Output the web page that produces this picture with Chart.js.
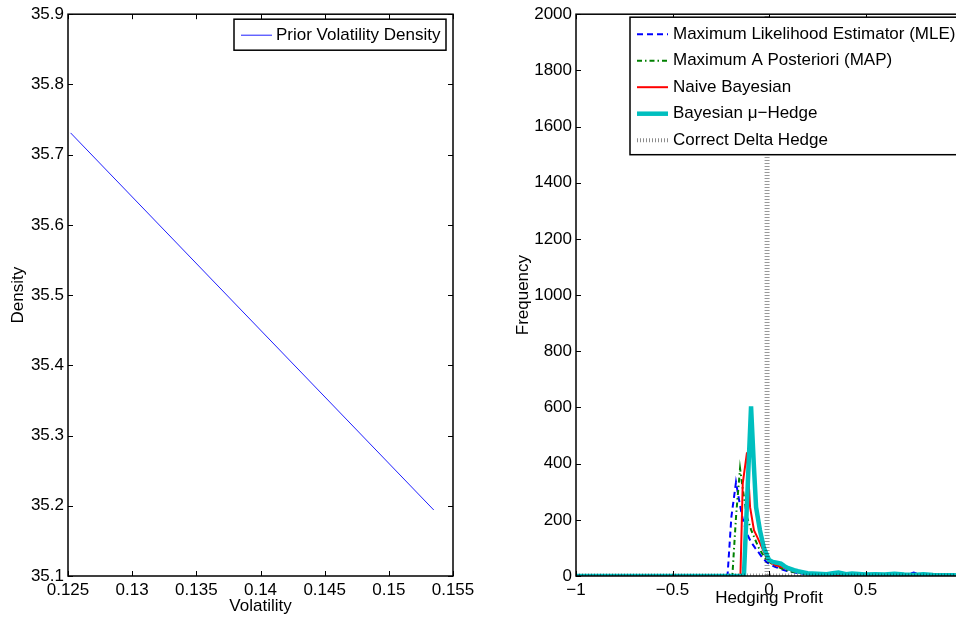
<!DOCTYPE html>
<html>
<head>
<meta charset="utf-8">
<script src="https://cdn.jsdelivr.net/npm/chart.js@4.4.0/dist/chart.umd.min.js"></script>
<style>
  html, body { margin: 0; padding: 0; background: #fff; overflow: hidden; width: 956px; height: 617px; }
  #left { position: absolute; left: 0; top: 0; }
  #right { position: absolute; left: 480px; top: 0; }
</style>
</head>
<body>
<canvas id="left" width="480" height="617"></canvas>
<canvas id="right" width="520" height="617"></canvas>
<script>
// left panel: prior volatility density
const volX = [0.1252, 0.1535];
const densityY = [35.731, 35.194];
const priorLabel = 'Prior Volatility Density';

// right panel: hedging profit histograms
const mleX = [-1, -0.215, -0.195, -0.171, -0.153, -0.135, -0.114, -0.093, -0.072, -0.052, -0.031, -0.01, 0.01, 0.031, 0.052, 0.072, 0.093, 0.114, 0.135, 0.155, 0.176, 0.2, 0.25, 0.3, 0.35, 0.4, 0.45, 0.5, 0.55, 0.6, 0.65, 0.7, 0.75, 0.8, 0.85, 0.9, 0.95, 1];
const mleY = [0, 0, 210, 334, 262, 199, 150, 121, 100, 82, 62, 48, 40, 33, 27, 22, 18, 15, 12, 10, 8, 7, 6, 5, 4, 5, 3, 4, 3, 2, 3, 2, 12, 2, 2, 1, 2, 1];

const mapX = [-1, -0.19, -0.17, -0.15, -0.135, -0.114, -0.093, -0.072, -0.052, -0.031, -0.01, 0.01, 0.031, 0.052, 0.072, 0.093, 0.114, 0.135, 0.155, 0.176, 0.2, 0.25, 0.3, 0.35, 0.4, 0.45, 0.5, 0.55, 0.6, 0.65, 0.7, 0.75, 0.8, 0.85, 0.9, 0.95, 1];
const mapY = [0, 0, 220, 383, 305, 210, 165, 130, 99, 75, 56, 46, 38, 31, 25, 20, 16, 13, 11, 9, 8, 6, 5, 5, 4, 4, 3, 3, 3, 2, 2, 2, 2, 1, 1, 1, 1];

const naiveX = [-1, -0.148, -0.136, -0.114, -0.098, -0.078, -0.062, -0.047, -0.026, -0.005, 0.016, 0.036, 0.057, 0.078, 0.098, 0.12, 0.14, 0.16, 0.18, 0.2, 0.25, 0.3, 0.35, 0.4, 0.45, 0.5, 0.55, 0.6, 0.65, 0.7, 0.75, 0.8, 0.85, 0.9, 0.95, 1];
const naiveY = [0, 0, 330, 440, 245, 163, 140, 118, 85, 55, 45, 38, 34, 30, 24, 19, 15, 12, 10, 8, 6, 7, 4, 4, 3, 3, 2, 3, 2, 2, 2, 2, 4, 1, 1, 1];

const hedgeX = [-1, -0.13, -0.093, -0.079, -0.067, -0.047, -0.026, 0.0, 0.02, 0.04, 0.062, 0.08, 0.1, 0.13, 0.15, 0.18, 0.2, 0.25, 0.3, 0.33, 0.36, 0.4, 0.43, 0.5, 0.55, 0.6, 0.65, 0.7, 0.75, 0.8, 0.85, 0.9, 0.95, 1];
const hedgeY = [0, 0, 604, 401, 245, 163, 99, 57, 50, 47, 44, 35, 28, 21, 17, 13, 10, 8, 6, 10, 12, 6, 9, 5, 6, 5, 8, 5, 4, 6, 4, 3, 3, 2];

// single spike bin; null splits the rising and falling edge so the dots stay clean
const deltaX = [-1, -0.01, -0.01, -0.01, -0.01, 1];
const deltaY = [0, 0, 9000, null, 0, 0];

const seriesLabels = [
  'Maximum Likelihood Estimator (MLE)',
  'Maximum A Posteriori (MAP)',
  'Naive Bayesian',
  'Bayesian \u03bc\u2212Hedge',
  'Correct Delta Hedge'
];

const pts = (xs, ys) => xs.map((x, i) => ({ x: x, y: ys[i] }));

Chart.defaults.font.family = '"Liberation Sans", Arial, Helvetica, sans-serif';
Chart.defaults.font.size = 17;
Chart.defaults.color = '#000';

// MATLAB style box, inward ticks and boxed legend
const frame = {
  id: 'frame',
  afterDraw(chart, args, opts) {
    const { ctx, chartArea: a, scales } = chart;
    const t = 5;
    ctx.save();
    ctx.strokeStyle = '#000';
    ctx.lineWidth = 1;
    ctx.beginPath();
    scales.x.ticks.forEach(tk => {
      const px = Math.round(scales.x.getPixelForValue(tk.value)) + 0.5;
      ctx.moveTo(px, a.bottom); ctx.lineTo(px, a.bottom - t);
      ctx.moveTo(px, a.top); ctx.lineTo(px, a.top + t);
    });
    scales.y.ticks.forEach(tk => {
      const py = Math.round(scales.y.getPixelForValue(tk.value)) + 0.5;
      ctx.moveTo(a.left, py); ctx.lineTo(a.left + t, py);
      ctx.moveTo(a.right, py); ctx.lineTo(a.right - t, py);
    });
    ctx.stroke();
    ctx.lineWidth = 1.5;
    ctx.strokeRect(a.left, a.top, a.right - a.left, a.bottom - a.top);

    // legend
    const lg = opts.legend;
    const bx = a.left + lg.left, by = a.top + lg.top;
    const bw = a.right - lg.right - bx;
    const bh = lg.rowH * chart.data.datasets.length + lg.pad;
    ctx.fillStyle = '#fff';
    ctx.fillRect(bx, by, bw, bh);
    ctx.strokeRect(bx, by, bw, bh);
    ctx.font = '17px "Liberation Sans", Arial, sans-serif';
    ctx.textBaseline = 'middle';
    chart.data.datasets.forEach((ds, i) => {
      const cy = by + lg.first + i * lg.rowH;
      ctx.save();
      ctx.strokeStyle = ds.legendColor || ds.borderColor;
      ctx.lineWidth = ds.legendWidth || ds.borderWidth;
      ctx.setLineDash(ds.legendDash || ds.borderDash || []);
      ctx.beginPath();
      ctx.moveTo(bx + 7, cy);
      ctx.lineTo(bx + 38, cy);
      ctx.stroke();
      ctx.restore();
      ctx.fillStyle = '#000';
      ctx.fillText(ds.label, bx + lg.textX, cy);
    });
    ctx.restore();
  }
};

const axisCommon = {
  grid: { display: false, drawTicks: false },
  border: { display: false }
};

new Chart(document.getElementById('left'), {
  type: 'line',
  data: {
    datasets: [{
      label: priorLabel,
      data: pts(volX, densityY),
      borderColor: 'rgb(30,30,255)',
      borderWidth: 1,
      pointRadius: 0
    }]
  },
  options: {
    responsive: false,
    animation: false,
    layout: { padding: { top: 13, right: 27, left: 0, bottom: 0 } },
    plugins: {
      legend: { display: false },
      tooltip: { enabled: false },
      frame: { legend: { left: 166, top: 5, right: 7, rowH: 31, pad: 0, first: 16, textX: 42 } }
    },
    scales: {
      x: {
        ...axisCommon,
        type: 'linear', min: 0.125, max: 0.155,
        ticks: { stepSize: 0.005, padding: 4, maxRotation: 0, autoSkip: false, callback: v => String(+v.toFixed(3)) },
        title: { display: true, text: 'Volatility', padding: { top: 0, bottom: 0 } },
        afterFit: s => { s.height = 41; }
      },
      y: {
        ...axisCommon,
        min: 35.1, max: 35.9,
        ticks: { stepSize: 0.1, padding: 4, callback: v => v.toFixed(1) },
        title: { display: true, text: 'Density', padding: { top: 8, bottom: 0 } },
        afterFit: s => { s.width = 68; }
      }
    }
  },
  plugins: [frame]
});

new Chart(document.getElementById('right'), {
  type: 'line',
  data: {
    datasets: [
      { label: seriesLabels[0], data: pts(mleX, mleY), borderColor: '#0000ff', borderWidth: 2, borderDash: [6, 4], order: 5 },
      { label: seriesLabels[1], data: pts(mapX, mapY), borderColor: '#008000', borderWidth: 2, borderDash: [5, 3, 1.5, 3], order: 4 },
      { label: seriesLabels[2], data: pts(naiveX, naiveY), borderColor: '#ff0000', borderWidth: 2, order: 3 },
      { label: seriesLabels[3], data: pts(hedgeX, hedgeY), borderColor: 'rgb(0,191,191)', borderWidth: 4.5, order: 2 },
      { label: seriesLabels[4], data: pts(deltaX, deltaY), borderColor: 'rgba(0,0,0,0.4)', borderWidth: 5, borderDash: [1, 2], order: 1,
        spanGaps: false, legendColor: 'rgba(0,0,0,0.45)', legendWidth: 4, legendDash: [1, 2] }
    ].map(d => Object.assign(d, { pointRadius: 0, tension: 0 }))
  },
  options: {
    responsive: false,
    animation: false,
    layout: { padding: { top: 13, right: 38, left: 0, bottom: 0 } },
    plugins: {
      legend: { display: false },
      tooltip: { enabled: false },
      frame: { legend: { left: 54, top: 3, right: 4, rowH: 26.5, pad: 5, first: 17, textX: 43 } }
    },
    scales: {
      x: {
        ...axisCommon,
        type: 'linear', min: -1, max: 1,
        ticks: { stepSize: 0.5, padding: 4, maxRotation: 0, autoSkip: false, callback: v => String(v).replace('-', '\u2212') },
        title: { display: true, text: 'Hedging Profit', padding: { top: 0, bottom: 8 } },
        afterFit: s => { s.height = 41; }
      },
      y: {
        ...axisCommon,
        min: 0, max: 2000,
        ticks: { stepSize: 200, padding: 4, callback: v => String(v) },
        title: { display: true, text: 'Frequency', padding: { top: 33, bottom: 0 } },
        afterFit: s => { s.width = 96; }
      }
    }
  },
  plugins: [frame]
});
</script>
</body>
</html>
